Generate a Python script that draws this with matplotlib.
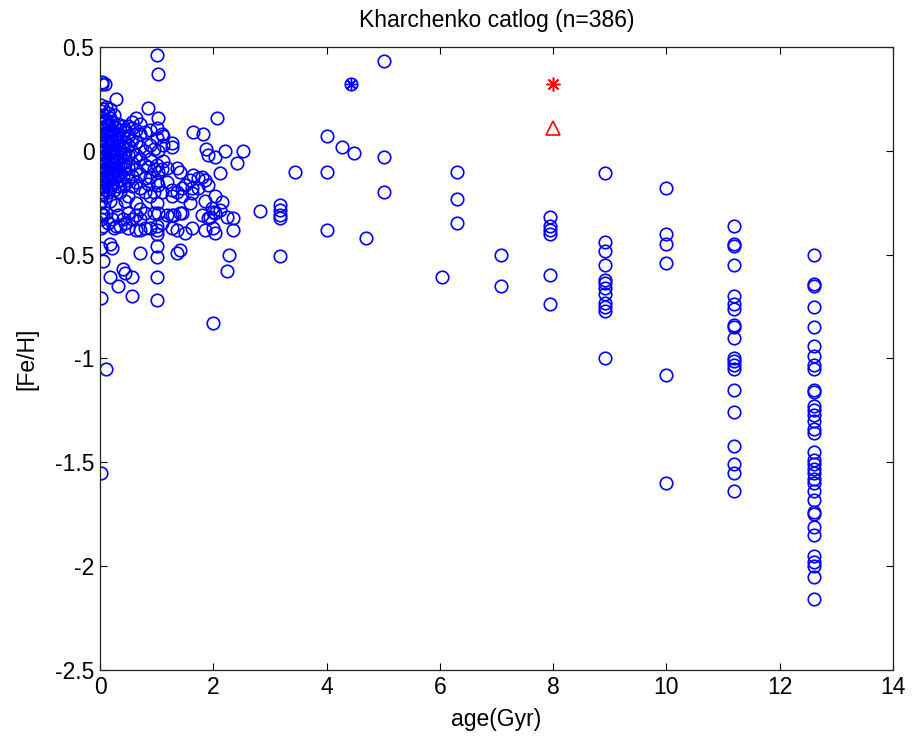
import matplotlib
matplotlib.use("Agg")
import matplotlib.pyplot as plt
from matplotlib.ticker import FormatStrFormatter

plt.rcParams['font.family'] = ['Liberation Sans', 'DejaVu Sans']
plt.rcParams['axes.unicode_minus'] = False

# young stars (age < 2.6 Gyr): one age per column, list of [Fe/H] per column
young_ages = [0.02, 0.03, 0.06, 0.09, 0.10, 0.14, 0.18, 0.22, 0.25, 0.29,
              0.32, 0.36, 0.40, 0.45, 0.50, 0.56, 0.63, 0.71, 0.79, 0.84,
              0.89, 0.95, 1.00, 1.03, 1.09, 1.12, 1.18, 1.27, 1.30, 1.36,
              1.41, 1.44, 1.50, 1.58, 1.62, 1.65, 1.73, 1.80, 1.82, 1.85,
              1.88, 1.91, 1.94, 1.97, 2.00, 2.03, 2.06, 2.12, 2.15, 2.21,
              2.24, 2.27, 2.34, 2.35, 2.41, 2.53]
young_fehs = [
    [0.22, 0.19, 0.16, 0.13, 0.11, 0.08, 0.05, 0.03, 0.0, -0.03, -0.05, -0.08,
     -0.10, -0.13, -0.15, -0.18, -0.20, -0.24, -0.30, -0.33, -0.37, -0.47, -0.71, -1.55],
    [0.33, 0.32],
    [0.20, 0.17, 0.14, 0.10, 0.06, 0.02, -0.01, -0.04, -0.07, -0.11, -0.14,
     -0.17, -0.21, -0.27, -0.31, -0.36, -0.53],
    [0.32],
    [0.21, 0.15, 0.12, 0.08, 0.04, 0.01, -0.02, -0.06, -0.09, -0.12, -0.16,
     -0.19, -0.22, -0.30, -1.05],
    [0.18, 0.13, 0.09, 0.05, 0.0, -0.04, -0.08, -0.12, -0.15, -0.20, -0.35],
    [0.20, 0.16, 0.10, 0.06, 0.03, -0.01, -0.05, -0.10, -0.14, -0.18, -0.24, -0.45, -0.61],
    [0.14, 0.10, 0.05, 0.01, -0.03, -0.07, -0.11, -0.16, -0.33, -0.47],
    [0.17, 0.12, 0.07, 0.02, -0.02, -0.06, -0.09, -0.13, -0.19, -0.37],
    [0.25, 0.11, 0.06, 0.03, -0.01, -0.05, -0.10, -0.15, -0.26, -0.36],
    [0.13, 0.08, 0.04, 0.0, -0.04, -0.08, -0.12, -0.17, -0.31, -0.65],
    [0.10, 0.05, 0.01, -0.03, -0.07, -0.11, -0.14, -0.20, -0.36],
    [0.12, 0.07, 0.02, -0.02, -0.06, -0.12, -0.17, -0.33, -0.57],
    [0.10, 0.04, -0.01, -0.05, -0.09, -0.16, -0.24, -0.35, -0.59],
    [0.12, 0.07, 0.03, -0.02, -0.08, -0.14, -0.22, -0.30, -0.37],
    [0.14, 0.11, 0.05, 0.0, -0.06, -0.12, -0.17, -0.33, -0.61, -0.70],
    [0.16, 0.10, 0.04, -0.02, -0.09, -0.15, -0.25, -0.31, -0.38],
    [0.13, 0.08, 0.02, -0.04, -0.11, -0.18, -0.28, -0.33, -0.38, -0.49],
    [0.09, 0.0, -0.07, -0.13, -0.20, -0.30, -0.37],
    [0.205, -0.076, -0.16],
    [0.10, 0.03, -0.04, -0.125, -0.22, -0.37],
    [0.01, -0.09, -0.20, -0.30],
    [0.46, 0.11, 0.06, -0.07, -0.15, -0.25, -0.36, -0.38, -0.40, -0.46, -0.51, -0.61, -0.72],
    [0.37, 0.16, 0.0, -0.10, -0.165, -0.30],
    [0.08, -0.09, -0.20, -0.35],
    [0.07, 0.03, -0.05],
    [-0.084, -0.15, -0.31],
    [0.036, 0.02, -0.19, -0.373, -0.31, -0.22],
    [-0.31],
    [-0.084, -0.20, -0.38, -0.49],
    [-0.30, -0.10, -0.48],
    [-0.22, -0.30, -0.18],
    [-0.165, -0.397],
    [-0.25, -0.14],
    [-0.204, -0.373, -0.18],
    [0.09, -0.116],
    [-0.18, -0.13],
    [-0.125, -0.31],
    [0.08],
    [-0.14, -0.24, -0.38],
    [0.01],
    [-0.02, -0.165, -0.325],
    [-0.317],
    [-0.277],
    [-0.293, -0.83, -0.37],
    [-0.03, -0.22, -0.30, -0.397],
    [0.16],
    [-0.108, -0.285],
    [-0.245],
    [0.0],
    [-0.317, -0.577],
    [-0.50],
    [-0.38],
    [-0.325],
    [-0.057],
    [0.0],
]

# older stars, grouped by age column
old_ages = [2.82, 3.18, 3.44, 4.00, 4.27, 4.48, 4.70, 5.02, 6.04, 6.30,
            7.08, 7.94, 8.91, 10.0, 11.2, 12.6]
old_fehs = [
    [-0.29],
    [-0.26, -0.285, -0.31, -0.325, -0.505],
    [-0.10],
    [0.073, -0.10, -0.38],
    [0.02],
    [-0.01],
    [-0.42],
    [0.43, -0.03, -0.197],
    [-0.61],
    [-0.10, -0.23, -0.35],
    [-0.50, -0.65],
    [-0.32, -0.36, -0.38, -0.40, -0.60, -0.74],
    [-0.107, -0.437, -0.485, -0.55, -0.62, -0.635, -0.66, -0.69, -0.735,
     -0.75, -0.77, -1.00],
    [-0.18, -0.40, -0.45, -0.54, -1.08, -1.60],
    [-0.36, -0.45, -0.46, -0.55, -0.70, -0.74, -0.76, -0.84, -0.85, -0.90,
     -1.00, -1.01, -1.03, -1.05, -1.15, -1.26, -1.42, -1.51, -1.55, -1.64],
    [-0.50, -0.64, -0.65, -0.75, -0.85, -0.94, -0.99, -1.03, -1.05, -1.15,
     -1.16, -1.23, -1.25, -1.27, -1.30, -1.34, -1.36, -1.45, -1.49, -1.51,
     -1.53, -1.55, -1.58, -1.60, -1.64, -1.68, -1.74, -1.75, -1.81, -1.85,
     -1.95, -1.98, -2.00, -2.05, -2.16],
]

# special markers
sun_age, sun_feh = 4.43, 0.32
star_age, star_feh = 8.0, 0.32
tri_age, tri_feh = 8.0, 0.11

ages = []
fehs = []
for a, fl in zip(young_ages + old_ages, young_fehs + old_fehs):
    for f in fl:
        ages.append(a)
        fehs.append(f)

fig = plt.figure(figsize=(9.2, 7.4), dpi=100)
ax = fig.add_axes([0.1087, 0.0946, 0.862, 0.842])

ax.plot(ages, fehs, 'o', mfc='none', mec='#0000ff', ms=9, mew=1.2, ls='none')
# circle with asterisk
ax.plot([sun_age], [sun_feh], 'o', mfc='none', mec='#0000ff', ms=9, mew=1.2)
ax.plot([sun_age], [sun_feh], marker=(8, 2, 0), color='#0000ff', ms=8, mew=1.0, ls='none')
ax.plot([star_age], [star_feh], marker=(8, 2, 0), color='#ff0000', ms=10, mew=1.1, ls='none')
ax.plot([tri_age], [tri_feh], '^', mfc='none', mec='#ff0000', ms=10, mew=1.2)

ax.set_xlim(0, 14)
ax.set_ylim(-2.5, 0.5)
ax.set_xticks(range(0, 15, 2))
ax.set_yticks([-2.5, -2, -1.5, -1, -0.5, 0, 0.5])
ax.yaxis.set_major_formatter(FormatStrFormatter('%g'))
ax.tick_params(direction='in', length=5, width=0.8, top=True, right=True,
               labelsize=16.5, pad=4)
for s in ax.spines.values():
    s.set_linewidth(0.9)
    s.set_color('#222222')

ax.set_title("Kharchenko catlog (n=386)", fontsize=16.5, pad=14)
ax.set_xlabel("age(Gyr)", fontsize=16.5, labelpad=7)
ax.set_ylabel("[Fe/H]", fontsize=16.5, labelpad=12)

fig.savefig("out.png", dpi=100, facecolor='white')
